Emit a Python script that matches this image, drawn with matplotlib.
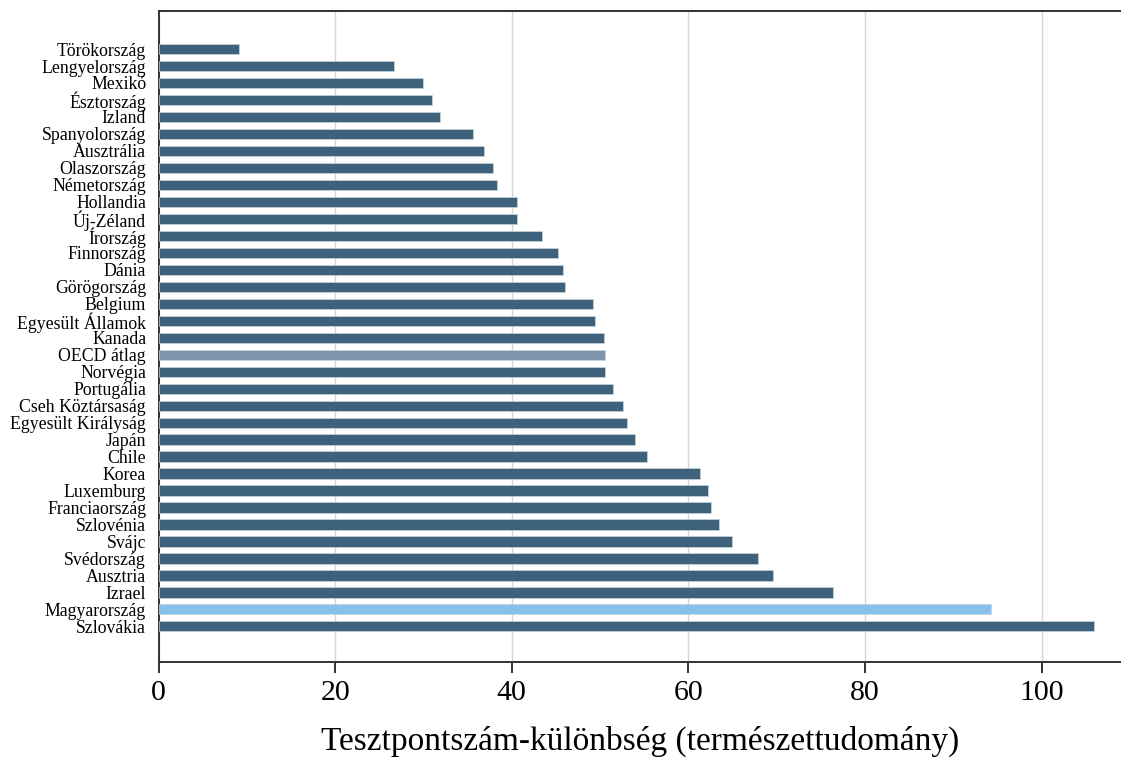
import matplotlib.pyplot as plt

countries = ["Törökország", "Lengyelország", "Mexikó", "Észtország", "Izland",
             "Spanyolország", "Ausztrália", "Olaszország", "Németország", "Hollandia",
             "Új-Zéland", "Írország", "Finnország", "Dánia", "Görögország",
             "Belgium", "Egyesült Államok", "Kanada", "OECD átlag", "Norvégia",
             "Portugália", "Cseh Köztársaság", "Egyesült Királyság", "Japán", "Chile",
             "Korea", "Luxemburg", "Franciaország", "Szlovénia", "Svájc",
             "Svédország", "Ausztria", "Izrael", "Magyarország", "Szlovákia"]
values = [9.1, 26.7, 30.0, 31.0, 31.9,
          35.6, 36.8, 37.9, 38.3, 40.6,
          40.6, 43.4, 45.2, 45.8, 46.0,
          49.2, 49.4, 50.5, 50.6, 50.6,
          51.5, 52.6, 53.0, 53.9, 55.3,
          61.3, 62.2, 62.6, 63.5, 64.9,
          67.9, 69.6, 76.4, 94.3, 105.9]

base = "#3e627c"
colors = [base] * len(countries)
colors[countries.index("OECD átlag")] = "#7f93ab"
colors[countries.index("Magyarország")] = "#85c1e9"

plt.rcParams['font.family'] = ['Liberation Serif', 'DejaVu Serif']

fig = plt.figure(figsize=(11.21, 7.58), dpi=100)
ax = fig.add_axes([0.1415, 0.1266, 0.8585, 0.8589])

ypos = list(range(len(countries)))
ax.barh(ypos, values, height=0.6, color=colors, edgecolor="#c8d4de", linewidth=0.5, zorder=3)

ax.set_xlim(0, 109)
ax.set_ylim(len(countries) - 1 + 2.1, -2.24)
ax.set_xticks([0, 20, 40, 60, 80, 100])
ax.set_yticks(ypos)
ax.set_yticklabels(countries, fontsize=12.8)
ax.tick_params(axis="y", length=0, pad=9)
ax.tick_params(axis="x", labelsize=21.5, length=8, width=1.3, pad=5, color="#222222")
ax.xaxis.grid(True, color="#d6d6d6", linewidth=1, zorder=0)
ax.set_xlabel("Tesztpontszám-különbség (természettudomány)", fontsize=24, labelpad=14)

for s in ["left", "bottom", "top"]:
    ax.spines[s].set_color("#333333")
    ax.spines[s].set_linewidth(1.4)
ax.spines["right"].set_visible(False)

fig.savefig("out.png", dpi=100)
